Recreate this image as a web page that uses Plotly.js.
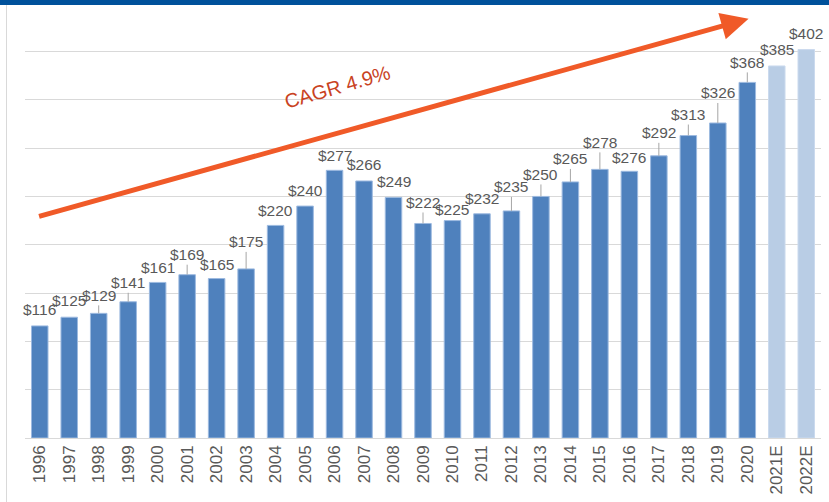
<!DOCTYPE html>
<html>
<head>
<meta charset="utf-8">
<script src="https://cdn.plot.ly/plotly-3.0.1.min.js"></script>
<style>
  html, body { margin: 0; padding: 0; background: #ffffff; }
  #wrap { position: relative; width: 829px; height: 502px; overflow: hidden; }
  #chart { position: absolute; left: 0; top: 0; width: 829px; height: 502px; }
  #band { position: absolute; left: 0; top: 0; width: 829px; height: 5px; background: #00519B; z-index: 5; }
  #frame { position: absolute; left: 6px; top: 5px; width: 1px; height: 497px; background: #d9d9d9; z-index: 5; }
</style>
</head>
<body>
<div id="wrap">
  <div id="chart"></div>
  <div id="band"></div>
  <div id="frame"></div>
</div>
<script>
// ---- data ----
const years = ["1996","1997","1998","1999","2000","2001","2002","2003","2004","2005","2006","2007","2008","2009","2010","2011","2012","2013","2014","2015","2016","2017","2018","2019","2020","2021E","2022E"];
const values = [116,125,129,141,161,169,165,175,220,240,277,266,249,222,225,232,235,250,265,278,276,292,313,326,368,385,402];
const isEstimate = [false,false,false,false,false,false,false,false,false,false,false,false,false,false,false,false,false,false,false,false,false,false,false,false,false,true,true];
const cagrText = "CAGR 4.9%";

// ---- styling (label offsets in px above bar top) ----
const labelOffsets = [-16,-17,-18,-19,-15,-20,-14,-27,-15,-16,-15,-16,-16,-21,-11,-15,-24,-22,-23,-27,-14,-23,-21,-30,-20,-16,-16];
const actualColor = "#4F81BD", estColor = "#B9CDE5";
const actualLine = "#9DBAE0", estLine = "#CBDAEE";

const trace = {
  type: "bar",
  x: years,
  y: values,
  marker: {
    color: isEstimate.map(e => e ? estColor : actualColor),
    line: { color: isEstimate.map(e => e ? estLine : actualLine), width: 1 }
  },
  hoverinfo: "none"
};

const labelFont = { family: "Liberation Sans Narrow, Arial Narrow, Liberation Sans, sans-serif", size: 15.5, color: "#595959" };

const annotations = years.map((yr, i) => {
  const off = labelOffsets[i];
  const lead = Math.abs(off) >= 18;
  const a = {
    x: i, y: values[i], xref: "x", yref: "y",
    text: "$" + values[i],
    font: labelFont,
    xanchor: "center", yanchor: "middle",
    showarrow: lead
  };
  if (lead) {
    Object.assign(a, { ax: 0, ay: off, arrowhead: 0, arrowwidth: 1, arrowcolor: "#A6A6A6", standoff: 0 });
  } else {
    a.yshift = -off;
  }
  return a;
});

// trend arrow
annotations.push({
  xref: "paper", yref: "paper", x: 0.909, y: 0.975,
  ax: -711, ay: 198, axref: "pixel", ayref: "pixel",
  text: "", showarrow: true, arrowhead: 2, arrowsize: 1.1, arrowwidth: 5,
  arrowcolor: "#F05A28", standoff: 0
});
annotations.push({
  xref: "paper", yref: "paper", x: 0.392, y: 0.816,
  text: cagrText, showarrow: false, textangle: -16,
  font: { family: "Liberation Sans, Arial, sans-serif", size: 20, color: "#C9431F" },
  xanchor: "center", yanchor: "middle"
});

const layout = {
  width: 829, height: 502,
  margin: { l: 25, r: 8, t: 8, b: 64 },
  paper_bgcolor: "#ffffff", plot_bgcolor: "#ffffff",
  showlegend: false,
  bargap: 0.44,
  xaxis: {
    type: "category",
    range: [-0.5, years.length - 0.5],
    autorange: false,
    tickangle: -90,
    ticklabelstandoff: 3,
    tickfont: { family: "Liberation Sans, Arial, sans-serif", size: 17, color: "#595959" },
    ticks: "", showgrid: false, showline: false, zeroline: false
  },
  yaxis: {
    range: [0, 445],
    dtick: 50,
    showticklabels: false,
    ticks: "",
    showgrid: true, gridcolor: "#D9D9D9", gridwidth: 1,
    zeroline: true, zerolinecolor: "#D9D9D9", zerolinewidth: 1,
    showline: false
  },
  annotations: annotations
};

Plotly.newPlot("chart", [trace], layout, { staticPlot: true, displayModeBar: false });
</script>
</body>
</html>
